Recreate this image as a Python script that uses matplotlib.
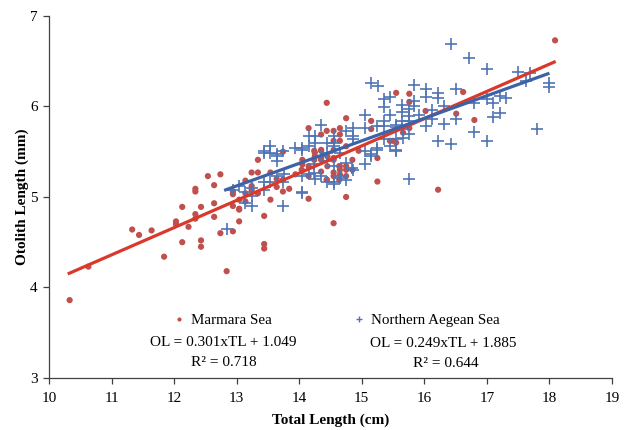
import numpy as np
import matplotlib.pyplot as plt
from matplotlib.lines import Line2D

plt.rcParams['font.family'] = ['Liberation Serif', 'DejaVu Serif']

# Marmara Sea (TL cm, OL mm)
marmara_tl = [10.33, 10.63, 11.33, 11.44, 11.64, 11.84, 12.03, 12.03, 12.13, 12.13,
              12.23, 12.34, 12.34, 12.34, 12.34, 12.43, 12.43, 12.43, 12.54, 12.64,
              12.64, 12.64, 12.74, 12.74, 12.84, 12.94, 12.94, 12.94, 12.94, 13.04,
              13.04, 13.04, 13.04, 13.14, 13.14, 13.14, 13.24, 13.24, 13.24, 13.34,
              13.34, 13.34, 13.44, 13.44, 13.44, 13.54, 13.54, 13.64, 13.64, 13.74,
              13.74, 13.74, 13.84, 13.94, 14.05, 14.15, 14.15, 14.15, 14.25, 14.25,
              14.35, 14.35, 14.35, 14.44, 14.44, 14.44, 14.55, 14.55, 14.55, 14.55,
              14.55, 14.65, 14.65, 14.65, 14.65, 14.65, 14.75, 14.75, 14.75, 14.75,
              14.85, 14.85, 14.95, 15.15, 15.15, 15.25, 15.25, 15.45, 15.55, 15.55,
              15.66, 15.76, 15.76, 15.76, 16.02, 16.22, 16.51, 16.62, 16.80, 18.09,
              14.35, 14.45, 14.45, 14.65, 14.24, 14.35, 14.55, 14.05, 14.24, 14.35,
              14.55, 14.64, 14.75, 14.55, 14.04, 14.15, 14.44, 14.64, 14.75, 15.50]
marmara_ol = [3.86, 4.23, 4.64, 4.58, 4.63, 4.34, 4.73, 4.70, 4.89, 4.50,
              4.67, 5.09, 5.06, 4.81, 4.76, 4.89, 4.52, 4.45, 5.23, 5.13,
              4.93, 4.78, 5.25, 4.60, 4.18, 5.06, 5.03, 4.90, 4.62, 4.86,
              4.73, 4.97, 4.87, 5.18, 5.04, 4.95, 5.27, 5.12, 5.08, 5.41,
              5.27, 5.04, 4.79, 4.48, 4.43, 4.97, 5.27, 5.11, 5.20, 5.06,
              5.50, 5.19, 5.09, 5.25, 5.36, 4.98, 5.34, 5.76, 5.49, 5.45,
              5.41, 5.69, 5.28, 6.04, 5.73, 5.19, 5.73, 5.62, 5.41, 5.27,
              4.71, 5.76, 5.69, 5.62, 5.34, 5.25, 5.87, 5.56, 5.34, 5.00,
              5.41, 5.30, 5.51, 5.84, 5.75, 5.43, 5.17, 5.62, 6.15, 5.60,
              5.71, 6.14, 6.05, 5.76, 5.95, 5.08, 5.92, 6.16, 5.85, 6.73,
              5.52, 5.45, 5.34, 5.30, 5.51, 5.51, 5.52, 5.41, 5.41, 5.43,
              5.43, 5.34, 5.30, 5.23, 5.30, 5.23, 5.19, 5.19, 5.23, 5.62]

# Northern Aegean Sea (TL cm, OL mm)
aegean_tl = [16.42, 16.72, 17.00, 17.50, 17.69, 17.62, 18.00, 18.00, 17.80, 17.21,
             17.30, 17.10, 17.21, 17.10, 17.00, 16.80, 16.80, 17.00, 16.51, 16.51,
             16.32, 16.32, 16.42, 16.22, 16.22, 16.22, 16.12, 16.12, 16.02, 16.02,
             16.02, 15.83, 15.83, 15.83, 15.92, 15.76, 15.76, 15.76, 15.76, 15.65,
             15.65, 15.65, 15.65, 15.55, 15.55, 15.55, 15.55, 15.15, 15.26, 15.35,
             15.45, 15.35, 15.45, 15.35, 15.35, 15.05, 15.05, 15.25, 15.66, 15.45,
             15.35, 15.25, 15.15, 15.05, 15.05, 15.25, 15.76, 14.86, 14.86, 14.86,
             14.75, 14.86, 14.75, 14.85, 14.35, 14.25, 14.15, 14.15, 14.25, 13.94,
             14.05, 13.54, 13.44, 13.54, 13.65, 13.74, 13.64, 14.55, 14.55, 14.55,
             14.05, 14.15, 14.25, 14.05, 13.65, 13.76, 13.44, 13.54, 13.03, 12.94,
             13.14, 13.24, 13.24, 13.44, 12.84, 13.14, 13.24, 13.74, 13.74, 14.44,
             14.65, 14.44, 14.55, 14.05, 14.35, 14.44, 14.65, 15.15, 14.24, 14.44,
             14.55, 14.24, 14.35, 14.65, 14.75, 14.55, 14.05, 15.55, 13.44, 13.65]
aegean_ol = [6.69, 6.53, 6.41, 6.38, 6.37, 6.28, 6.26, 6.22, 5.75, 6.12,
             6.09, 6.04, 5.93, 5.88, 6.08, 6.04, 5.72, 5.62, 6.19, 5.86,
             6.01, 5.81, 5.59, 6.15, 6.09, 5.62, 5.96, 5.86, 6.19, 6.10,
             5.78, 6.24, 6.06, 6.00, 5.90, 5.97, 5.84, 5.69, 5.89, 6.02,
             5.94, 5.84, 5.75, 5.80, 5.77, 5.64, 5.51, 6.26, 6.23, 6.08,
             6.10, 5.99, 5.90, 5.84, 5.78, 5.90, 5.76, 5.78, 5.65, 5.56,
             5.64, 5.54, 5.47, 5.36, 5.51, 5.52, 5.20, 5.76, 5.67, 5.64,
             5.73, 5.30, 5.38, 5.32, 5.80, 5.67, 5.67, 5.56, 5.60, 5.54,
             5.54, 5.56, 5.51, 5.48, 5.47, 5.51, 5.40, 5.67, 5.56, 5.16,
             5.04, 5.25, 5.20, 5.23, 5.23, 5.25, 5.17, 5.17, 5.12, 5.08,
             5.05, 5.10, 5.01, 5.08, 4.65, 4.93, 4.90, 4.90, 5.16, 5.16,
             5.21, 5.60, 5.60, 5.52, 5.45, 5.49, 5.49, 5.45, 5.36, 5.40,
             5.34, 5.27, 5.23, 5.23, 5.19, 5.14, 5.05, 5.52, 5.49, 5.45]

# fitted lines: slope, intercept, x from, x to
fits = {
    'marmara': (0.301, 1.049, 10.3, 18.1),
    'aegean': (0.249, 1.885, 12.8, 18.0),
}

RED_PT = '#C0504D'
BLUE_PT = '#4F74B5'
RED_LN = '#D9392B'
BLUE_LN = '#3C63A8'

fig = plt.figure(figsize=(6.28, 4.30), dpi=100)
ax = fig.add_axes([0.078, 0.121, 0.8965, 0.842])

ax.scatter(marmara_tl, marmara_ol, s=20, color=RED_PT, edgecolors='none', zorder=2)
ax.scatter(aegean_tl, aegean_ol, s=64, marker='+', color=BLUE_PT, linewidths=1.2, zorder=3)

for key, col in (('marmara', RED_LN), ('aegean', BLUE_LN)):
    a, b, x0, x1 = fits[key]
    xs = np.array([x0, x1])
    ax.plot(xs, a * xs + b, color=col, lw=2.3, solid_capstyle='butt', zorder=4)

ax.set_xlim(10, 19)
ax.set_ylim(3, 7)
ax.set_xticks(range(10, 20))
ax.set_yticks(range(3, 8))
for s in ('top', 'right'):
    ax.spines[s].set_visible(False)
for s in ('left', 'bottom'):
    ax.spines[s].set_color('#404040')
    ax.spines[s].set_linewidth(0.9)
ax.tick_params(direction='out', length=4, width=0.9, color='#404040', labelsize=11)
ax.tick_params(axis='x', pad=6)
ax.tick_params(axis='y', pad=4)

ax.set_xlabel('Total Length (cm)', fontsize=11, fontweight='bold', labelpad=6)
ax.set_ylabel('Otolith Length (mm)', fontsize=11, fontweight='bold', labelpad=1)

handles = [
    Line2D([], [], ls='none', marker='o', ms=3, color=RED_PT, mec='none'),
    Line2D([], [], ls='none', marker='+', ms=5, color=BLUE_PT, mew=1),
]
ax.legend(handles, ['Marmara Sea', 'Northern Aegean Sea'], ncol=2, frameon=False,
          loc='center', bbox_to_anchor=(0.51, 0.16), fontsize=10.8,
          handlelength=0.8, handletextpad=0.4, columnspacing=5.4)

ax.text(0.31, 0.097, 'OL = 0.301xTL + 1.049', transform=ax.transAxes,
        ha='center', va='center', fontsize=11)
ax.text(0.31, 0.044, 'R² = 0.718', transform=ax.transAxes,
        ha='center', va='center', fontsize=11)
ax.text(0.70, 0.094, 'OL = 0.249xTL + 1.885', transform=ax.transAxes,
        ha='center', va='center', fontsize=11)
ax.text(0.705, 0.039, 'R² = 0.644', transform=ax.transAxes,
        ha='center', va='center', fontsize=11)

fig.savefig('out.png', dpi=100)
